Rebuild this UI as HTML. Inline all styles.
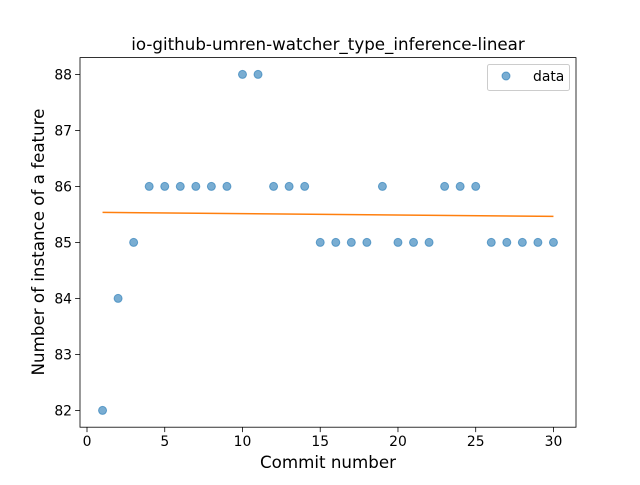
<!DOCTYPE html>
<html><head><meta charset="utf-8"><style>
body{margin:0;background:#fff}
text{font-family:"DejaVu Sans","Liberation Sans",sans-serif;fill:#000}
</style></head><body>
<svg id="c" width="640" height="480" viewBox="0 0 640 480">
<rect width="640" height="480" fill="#fff"/>
</svg>
<script>
const commits=[1,2,3,4,5,6,7,8,9,10,11,12,13,14,15,16,17,18,19,20,21,22,23,24,25,26,27,28,29,30];
const counts=[82,84,85,86,86,86,86,86,86,88,88,86,86,86,85,85,85,85,86,85,85,85,86,86,86,85,85,85,85,85];
const xTicks=[0,5,10,15,20,25,30];
const yTicks=[82,83,84,85,86,87,88];
const L=80,R=576,T=57.6,B=427.2;
const xmin=-0.45,xmax=31.45,ymin=81.7,ymax=88.3;
const sx=v=>L+(v-xmin)/(xmax-xmin)*(R-L);
const sy=v=>B-(v-ymin)/(ymax-ymin)*(B-T);
const svg=document.getElementById('c');
const NS='http://www.w3.org/2000/svg';
function mk(tag,attrs,parent){const e=document.createElementNS(NS,tag);for(const k in attrs)e.setAttribute(k,attrs[k]);(parent||svg).appendChild(e);return e;}
const pts=mk('g',{});


commits.forEach((c,i)=>{const p=mk('circle',{cx:sx(c),cy:sy(counts[i]),r:4,fill:'#1f77b4','fill-opacity':0.6,stroke:'#1f77b4','stroke-opacity':0.6},pts);

});
const n=commits.length,mx=commits.reduce((a,b)=>a+b)/n,my=counts.reduce((a,b)=>a+b)/n;
let num=0,den=0;commits.forEach((c,i)=>{num+=(c-mx)*(counts[i]-my);den+=(c-mx)**2;});
const slope=num/den,icpt=my-slope*mx;
const x0=commits[0],x1=commits[n-1];
const fl=mk('line',{x1:sx(x0),y1:sy(icpt+slope*x0),x2:sx(x1),y2:sy(icpt+slope*x1),stroke:'#ff7f0e','stroke-width':1.5});


const fr=mk('rect',{x:L,y:T,width:R-L,height:B-T,fill:'none',stroke:'#000','stroke-width':0.8});


xTicks.forEach(t=>{mk('line',{x1:sx(t),x2:sx(t),y1:B,y2:B+4.9,stroke:'#000','stroke-width':0.8});
const tx=mk('text',{x:sx(t),y:B+19,'text-anchor':'middle','font-size':13.9});tx.textContent=t;

});
yTicks.forEach(t=>{mk('line',{x1:L,x2:L-4.9,y1:sy(t),y2:sy(t),stroke:'#000','stroke-width':0.8});
const tx=mk('text',{x:L-8,y:sy(t)+5,'text-anchor':'end','font-size':13.9});tx.textContent=t;

});
</script>
<svg style="position:absolute;left:0;top:0" width="640" height="480">
<text x="328" y="50" text-anchor="middle" font-size="16.7">io-github-umren-watcher_type_inference-linear</text>
<text x="328" y="468" text-anchor="middle" font-size="16.7">Commit number</text>
<text transform="translate(44,242) rotate(-90)" text-anchor="middle" font-size="16.7">Number of instance of a feature</text>
<g>
<rect x="487.5" y="64.5" width="82" height="26" rx="2" fill="#fff" fill-opacity="0.8" stroke="#ccc"/>
<circle cx="506" cy="76" r="4" fill="#1f77b4" fill-opacity="0.6" stroke="#1f77b4" stroke-opacity="0.6"/>
<text x="533" y="81" font-size="13.9">data</text>
</g>
</svg>
</body></html>
